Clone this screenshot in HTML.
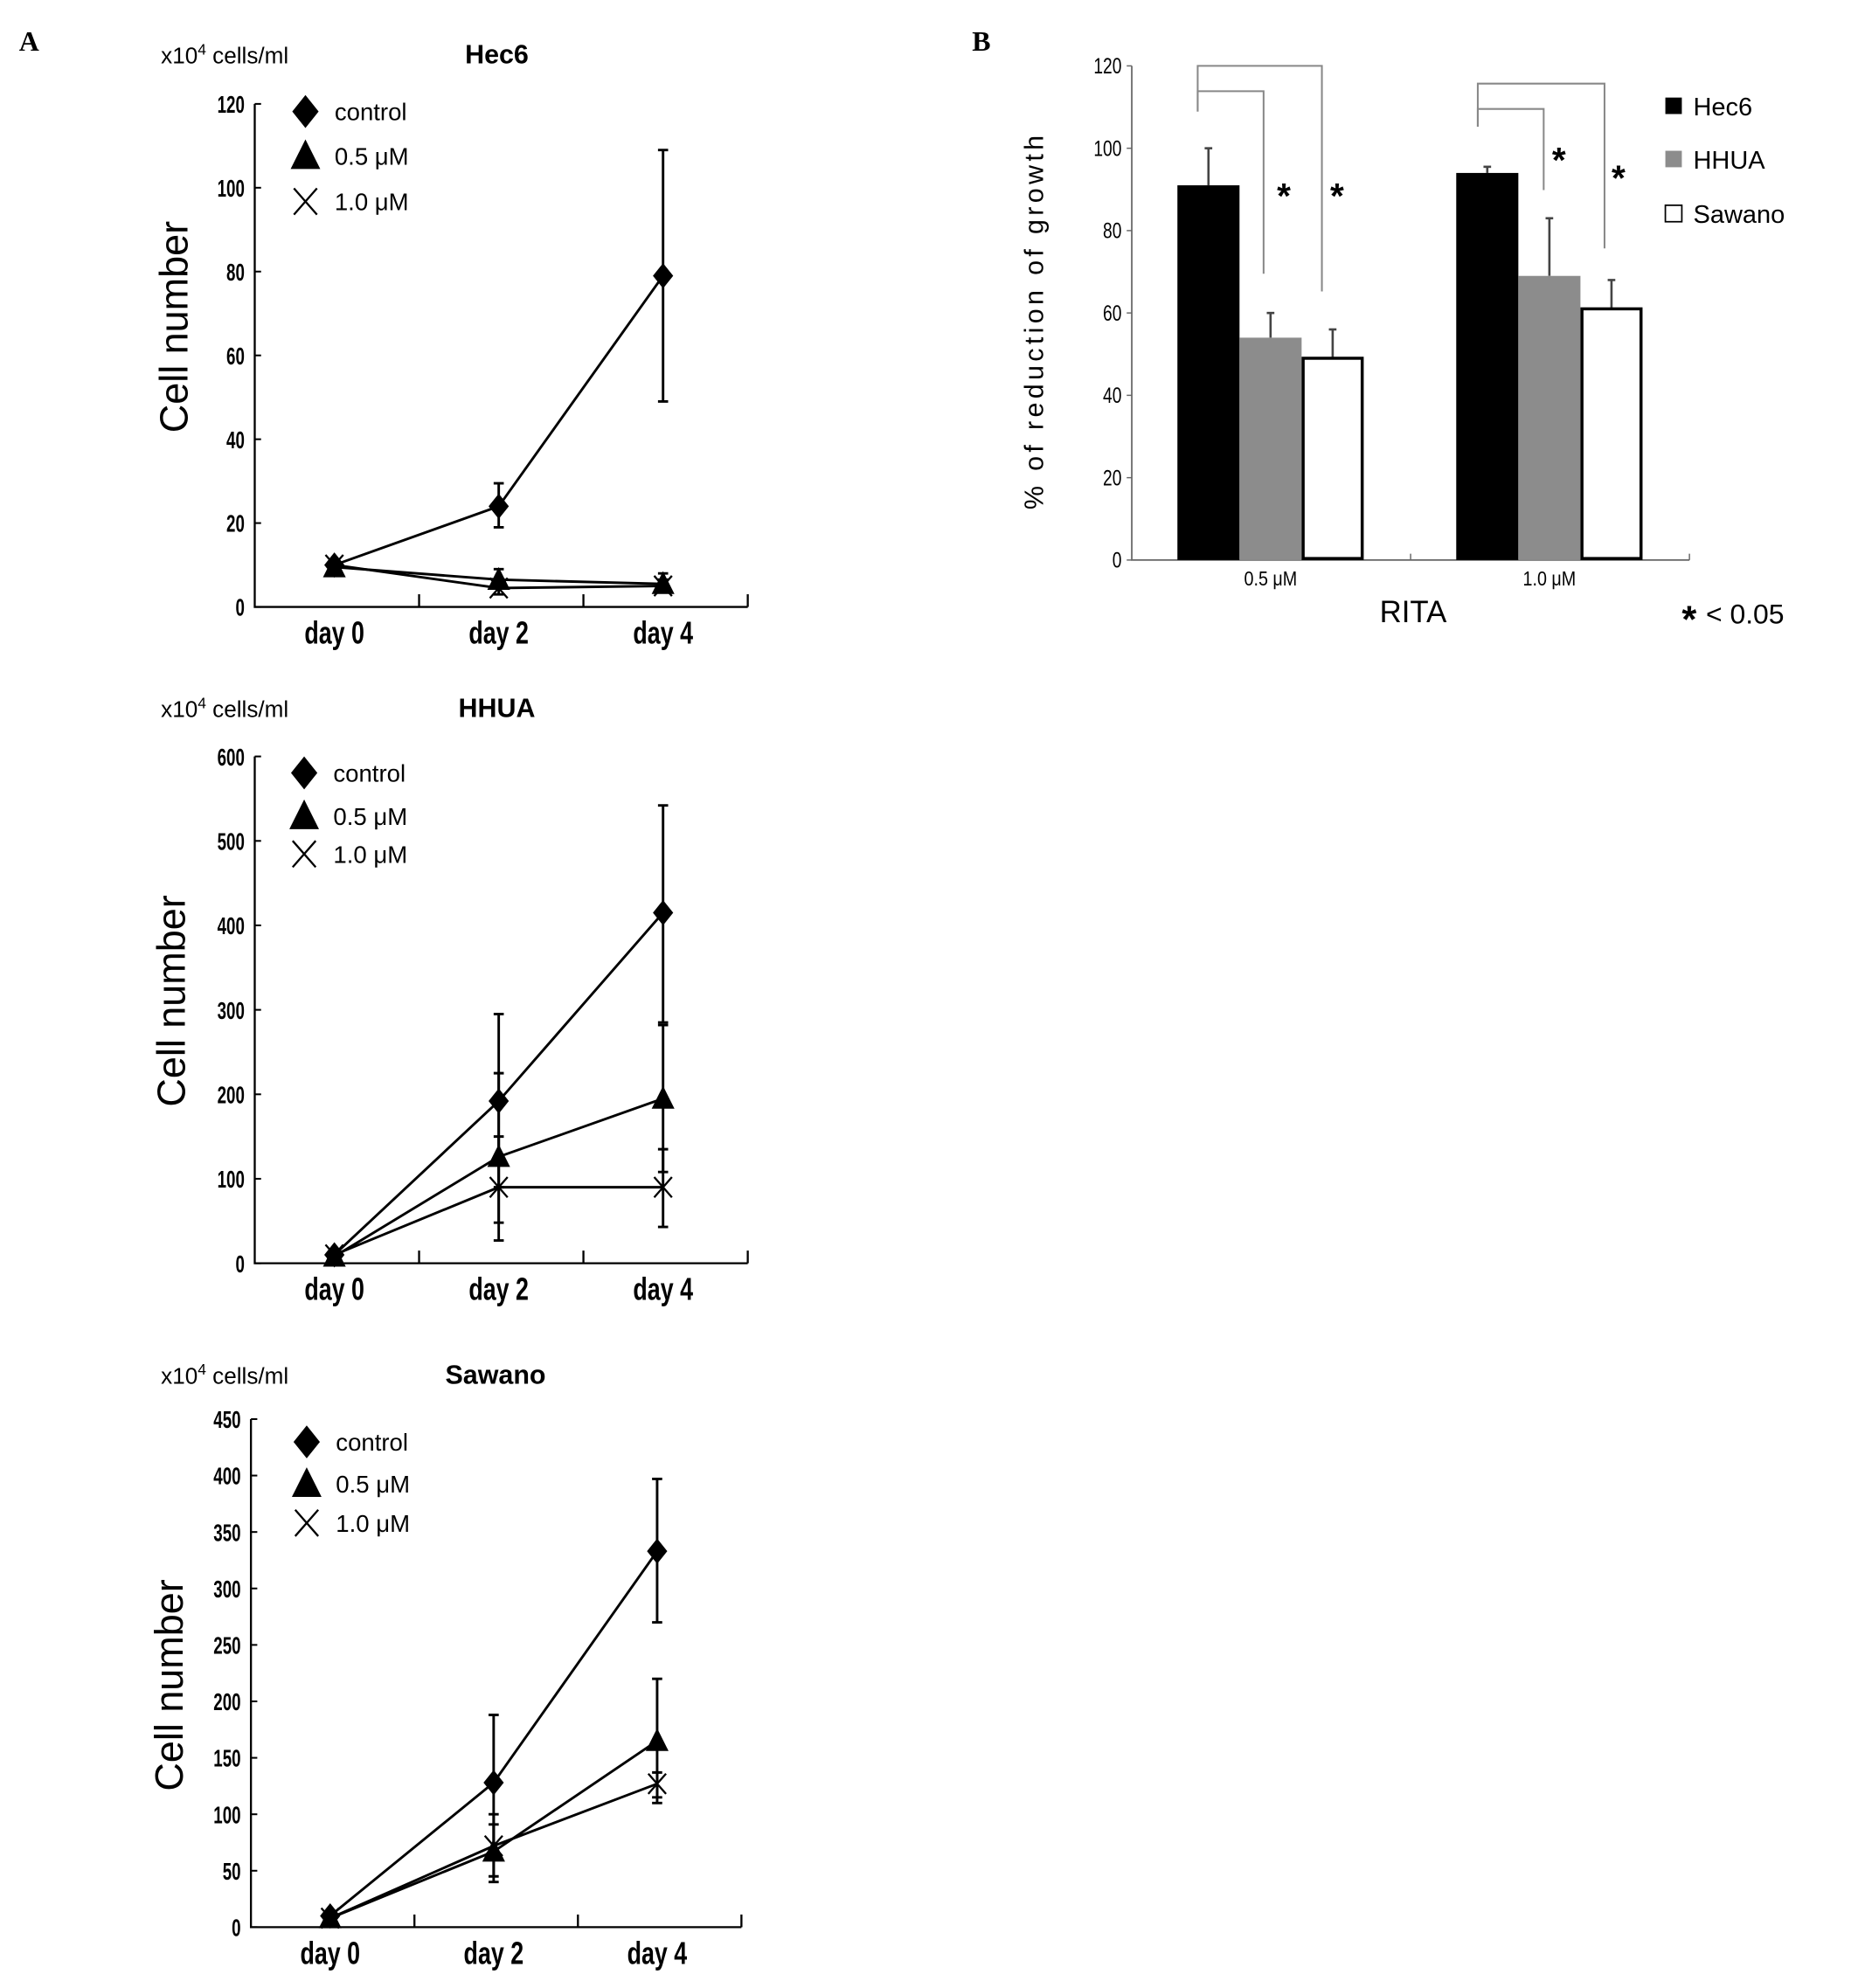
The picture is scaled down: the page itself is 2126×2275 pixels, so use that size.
<!DOCTYPE html>
<html><head><meta charset="utf-8"><style>
html,body{margin:0;padding:0;background:#fff;}
svg{display:block;font-family:"Liberation Sans",sans-serif;}
</style></head><body>
<svg id="fig" width="2126" height="2275" viewBox="0 0 1466 1569" preserveAspectRatio="none" xmlns="http://www.w3.org/2000/svg">
<rect width="1466" height="1569" fill="#fff"/>
<text x="15" y="40" font-family="Liberation Serif" font-weight="bold" font-size="22">A</text>
<text x="767" y="40" font-family="Liberation Serif" font-weight="bold" font-size="22">B</text>
</svg>
<script>
// ---- Panel A data ----
const days = ["day 0","day 2","day 4"];
const hecControl = [10, 24, 79];
const hecControlLo = [9, 19, 49];
const hecControlHi = [11, 29.5, 109];
const hecHalf = [9.5, 6.5, 5.5];
const hecHalfLo = [8.5, 4.5, 4];
const hecHalfHi = [10.5, 9, 8];
const hecOne = [10, 4.5, 5];
const hecOneLo = [9, 3, 3.5];
const hecOneHi = [11, 6, 6.5];
const hecTicks = [0,20,40,60,80,100,120];

const hhuaControl = [10, 192, 415];
const hhuaControlLo = [5, 90, 285];
const hhuaControlHi = [15, 295, 542];
const hhuaHalf = [8, 126, 195];
const hhuaHalfLo = [4, 48, 108];
const hhuaHalfHi = [12, 225, 282];
const hhuaOne = [10, 90, 90];
const hhuaOneLo = [6, 27, 43];
const hhuaOneHi = [14, 150, 135];
const hhuaTicks = [0,100,200,300,400,500,600];

const sawControl = [10, 128, 333];
const sawControlLo = [6, 68, 270];
const sawControlHi = [14, 188, 397];
const sawHalf = [8, 67, 165];
const sawHalfLo = [5, 40, 110];
const sawHalfHi = [11, 100, 220];
const sawOne = [8, 72, 127];
const sawOneLo = [5, 45, 115];
const sawOneHi = [11, 91, 137];
const sawTicks = [0,50,100,150,200,250,300,350,400,450];

// ---- Panel B data ----
const bGroups = ["0.5 μM","1.0 μM"];
const bSeries = ["Hec6","HHUA","Sawano"];
const bHec6 = [91, 94];
const bHHUA = [54, 69];
const bSawano = [49, 61];
const bHec6Err = [100, 95.5];
const bHHUAErr = [60, 83];
const bSawanoErr = [56, 68];
const bTicks = [0,20,40,60,80,100,120];

const NS="http://www.w3.org/2000/svg";
const svg=document.getElementById('fig');
function mk(tag,attrs,parent){const e=document.createElementNS(NS,tag);for(const k in attrs)e.setAttribute(k,attrs[k]);(parent||svg).appendChild(e);return e;}
function txt(x,y,s,attrs,parent){const e=mk('text',Object.assign({x:x,y:y},attrs),parent);e.textContent=s;return e;}

function linePanel(cfg){
  const g=mk('g',{});
  
  
  const ax=cfg.ax, y0=cfg.y0, yTop=cfg.yTop, xEnd=cfg.xEnd, maxV=cfg.ticks[cfg.ticks.length-1];
  const ys=v=>y0-(v/maxV)*(y0-yTop);
  const bw=(xEnd-ax)/3;
  const xs=i=>ax+bw*(i+0.5)-2;
  const axes=mk('path',{d:`M${ax} ${yTop}V${y0}H${xEnd}`,stroke:'#000','stroke-width':1.6,fill:'none'},g);
  
  
  for(let i=1;i<=3;i++){mk('line',{x1:ax+bw*i,x2:ax+bw*i,y1:y0,y2:y0-10,stroke:'#000','stroke-width':1.6},g);}
  cfg.ticks.forEach(t=>{
    mk('line',{x1:ax,x2:ax+5,y1:ys(t),y2:ys(t),stroke:'#000','stroke-width':1.4},g);
    const l=txt(ax-8,ys(t)+7,String(t),{'text-anchor':'end','font-size':19,'font-weight':'bold',transform:`translate(${ax-8} ${ys(t)}) scale(0.68 1) translate(${-(ax-8)} ${-ys(t)})`},g);
    
    
  });
  days.forEach((d,i)=>{
    const l=txt(xs(i),y0+29,d,{'text-anchor':'middle','font-size':25,'font-weight':'bold',transform:`translate(${xs(i)} 0) scale(0.74 1) translate(${-xs(i)} 0)`},g);
    
    
  });
  const yt=txt(0,0,'Cell number',{'font-size':31,'text-anchor':'middle',transform:`translate(${cfg.ylx} ${cfg.yly}) rotate(-90)`},g);
  
  
  const un=txt(cfg.unitX,cfg.titleY,'x10',{'font-size':18},g);
  const sup=mk('tspan',{dy:-7,'font-size':12},un);sup.textContent='4';
  const rest=mk('tspan',{dy:7},un);rest.textContent=' cells/ml';
  
  
  const tt=txt(cfg.titleX,cfg.titleY,cfg.title,{'font-size':21,'text-anchor':'middle','font-weight':'bold'},g);
  
  
  const series=[[cfg.c,cfg.cLo,cfg.cHi,'diamond'],[cfg.h,cfg.hLo,cfg.hHi,'triangle'],[cfg.o,cfg.oLo,cfg.oHi,'cross']];
  series.forEach(s=>{
    const [v,lo,hi,m]=s;
    const ln=mk('polyline',{points:v.map((d,i)=>`${xs(i)},${ys(d)}`).join(' '),fill:'none',stroke:'#000','stroke-width':2},g);
    
    
    v.forEach((d,i)=>{
      const x=xs(i);
      mk('path',{d:`M${x} ${ys(lo[i])}V${ys(hi[i])}M${x-4} ${ys(lo[i])}H${x+4}M${x-4} ${ys(hi[i])}H${x+4}`,stroke:'#000','stroke-width':2,fill:'none'},g);
      drawMarker(g,m,x,ys(d),1);
    });
  });
  const leg=[['diamond','control'],['triangle','0.5 μM'],['cross','1.0 μM']];
  leg.forEach((l,i)=>{
    drawMarker(g,l[0],cfg.legX,cfg.legY[i],1.3);
    const t=txt(cfg.legX+23,cfg.legY[i]+7,l[1],{'font-size':19},g);
    
    
  });
}
function drawMarker(g,m,x,y,s){
  let e;
  if(m==='diamond') e=mk('path',{d:`M${x} ${y-10*s}L${x+8*s} ${y}L${x} ${y+10*s}L${x-8*s} ${y}Z`,fill:'#000'},g);
  else if(m==='triangle') e=mk('path',{d:`M${x} ${y-10*s}L${x+9*s} ${y+8*s}L${x-9*s} ${y+8*s}Z`,fill:'#000'},g);
  else e=mk('path',{d:`M${x-7*s} ${y-8*s}L${x+7*s} ${y+8*s}M${x+7*s} ${y-8*s}L${x-7*s} ${y+8*s}`,stroke:'#000','stroke-width':1.6,fill:'none'},g);
  
  
}

linePanel({name:'hec6-chart',ax:201,y0:479,yTop:82,xEnd:590,ticks:hecTicks,title:'Hec6',titleX:392,titleY:50,unitX:127,ylx:148,yly:258,legX:241,legY:[88,123,159],
  c:hecControl,cLo:hecControlLo,cHi:hecControlHi,h:hecHalf,hLo:hecHalfLo,hHi:hecHalfHi,o:hecOne,oLo:hecOneLo,oHi:hecOneHi});
linePanel({name:'hhua-chart',ax:201,y0:997,yTop:597,xEnd:590,ticks:hhuaTicks,title:'HHUA',titleX:392,titleY:566,unitX:127,ylx:146,yly:790,legX:240,legY:[610,644,674],
  c:hhuaControl,cLo:hhuaControlLo,cHi:hhuaControlHi,h:hhuaHalf,hLo:hhuaHalfLo,hHi:hhuaHalfHi,o:hhuaOne,oLo:hhuaOneLo,oHi:hhuaOneHi});
linePanel({name:'sawano-chart',ax:198,y0:1521,yTop:1120,xEnd:585,ticks:sawTicks,title:'Sawano',titleX:391,titleY:1092,unitX:127,ylx:144,yly:1330,legX:242,legY:[1138,1171,1202],
  c:sawControl,cLo:sawControlLo,cHi:sawControlHi,h:sawHalf,hLo:sawHalfLo,hHi:sawHalfHi,o:sawOne,oLo:sawOneLo,oHi:sawOneHi});

// ---- Panel B ----
(function(){
  const g=mk('g',{});
  
  
  const ax=893,y0=442,yTop=52,xEnd=1333,maxV=120;
  const ys=v=>y0-(v/maxV)*(y0-yTop);
  const gw=(xEnd-ax)/2, barW=49;
  const gx=i=>ax+gw*i+36;
  const axes=mk('path',{d:`M${ax} ${yTop}V${y0}H${xEnd}`,stroke:'#666','stroke-width':1.2,fill:'none'},g);
  
  
  mk('line',{x1:ax+gw,x2:ax+gw,y1:y0,y2:y0-5,stroke:'#666'},g);
  mk('line',{x1:xEnd,x2:xEnd,y1:y0,y2:y0-5,stroke:'#666'},g);
  bTicks.forEach(t=>{
    mk('line',{x1:ax-4,x2:ax,y1:ys(t),y2:ys(t),stroke:'#666'},g);
    const l=txt(ax-8,ys(t)+6,String(t),{'text-anchor':'end','font-size':17,transform:`translate(${ax-8} 0) scale(0.78 1) translate(${-(ax-8)} 0)`},g);
    
    
  });
  const vals=[bHec6,bHHUA,bSawano], errs=[bHec6Err,bHHUAErr,bSawanoErr];
  const fills=['#000','#8c8c8c','#fff'];
  bGroups.forEach((gname,gi)=>{
    vals.forEach((v,si)=>{
      const x=gx(gi)+si*barW;
      mk('line',{x1:x+barW/2,x2:x+barW/2,y1:ys(v[gi]),y2:ys(errs[si][gi]),stroke:'#444','stroke-width':1.8},g);
      mk('line',{x1:x+barW/2-3,x2:x+barW/2+3,y1:ys(errs[si][gi]),y2:ys(errs[si][gi]),stroke:'#444','stroke-width':1.8},g);
      const r=mk('rect',{x:si===2?x+1.2:x,y:ys(v[gi]),width:si===2?barW-2.4:barW,height:y0-ys(v[gi])-(si===2?1.2:0),fill:fills[si],stroke:si===2?'#000':'none','stroke-width':2.4},g);
      
      
    });
    const l=txt(gx(gi)+barW*1.5,y0+20,gname,{'text-anchor':'middle','font-size':16,transform:`translate(${gx(gi)+barW*1.5} 0) scale(0.85 1) translate(${-(gx(gi)+barW*1.5)} 0)`},g);
    
    
  });
  const br=[[945,88,52,1043,230],[945,88,72,997,216],[1166,100,66,1266,196],[1166,100,86,1218,150]];
  br.forEach(b=>{
    const p=mk('path',{d:`M${b[0]} ${b[1]}V${b[2]}H${b[3]}V${b[4]}`,stroke:'#888','stroke-width':1.4,fill:'none'},g);
    
    
  });
  [[1013,164],[1055,164],[1230,136],[1277,150]].forEach(s=>{
    const t=txt(s[0],s[1],'*',{'font-size':28,'font-weight':'bold','text-anchor':'middle'},g);
    
    
  });
  const lc=['#000','#8c8c8c','#fff'], ly=[84,126,169];
  bSeries.forEach((s,i)=>{
    mk('rect',{x:1314,y:ly[i]-7,width:13,height:13,fill:lc[i],stroke:i===2?'#000':'none','stroke-width':1.2},g);
    const t=txt(1336,ly[i]+7,s,{'font-size':20},g);
    
    
  });
  const yt=txt(0,0,'% of reduction of growth',{'font-size':21,'text-anchor':'middle','letter-spacing':'3',transform:'translate(823 253) rotate(-90)'},g);
  
  
  const xt=txt(1115,491,'RITA',{'font-size':24,'text-anchor':'middle'},g);
  
  
  const pn=txt(1327,499,'*',{'font-size':30,'font-weight':'bold'},g);
  
  
  const pv=txt(1346,492,'< 0.05',{'font-size':22},g);
  
  
})();
</script>
</body></html>
